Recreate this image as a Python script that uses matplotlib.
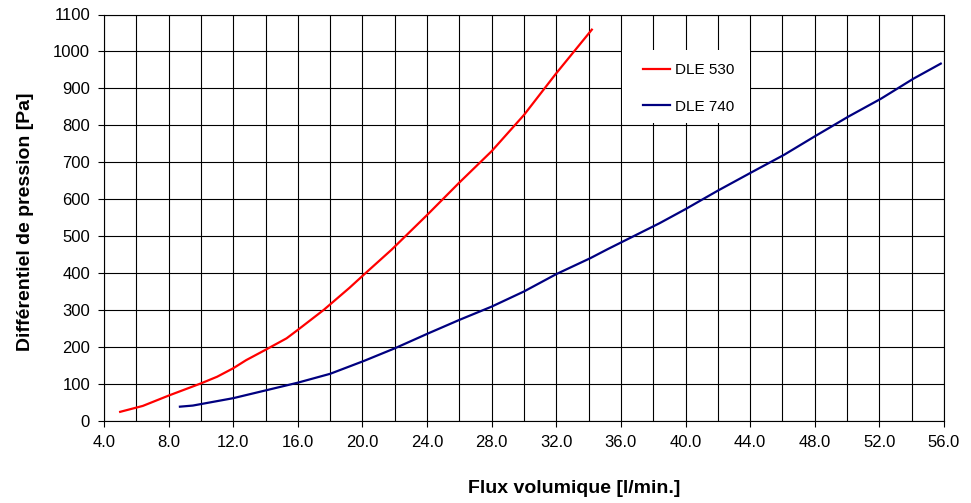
import numpy as np
import matplotlib
matplotlib.use('Agg')
import matplotlib.pyplot as plt
from matplotlib.patches import Rectangle
from matplotlib.ticker import MultipleLocator, FormatStrFormatter

plt.rcParams['font.family'] = ['Liberation Sans', 'DejaVu Sans']

# DLE 530 (red)
x_530 = [5.0, 6.4, 8.0, 10.0, 11.0, 12.0, 12.8, 14.0, 15.3, 16.0, 17.6, 19.2, 20.2,
         21.8, 24.0, 26.0, 28.0, 30.0, 32.0, 34.2]
y_530 = [24, 40, 68, 101, 119, 142, 164, 192, 223, 246, 300, 360, 400,
         463, 557, 645, 730, 828, 941, 1059]

# DLE 740 (blue)
x_740 = [8.7, 9.5, 10.0, 12.0, 14.0, 16.0, 18.0, 20.1, 22.0, 24.1, 26.0, 28.0, 30.0,
         32.0, 34.1, 35.2, 38.4, 40.0, 42.0, 44.1, 46.1, 48.0, 50.1, 52.1, 54.1, 55.8]
y_740 = [38, 41, 45, 61, 82, 103, 127, 162, 196, 237, 273, 309, 350,
         397, 440, 465, 535, 573, 623, 673, 720, 770, 824, 872, 926, 967]

fig = plt.figure(figsize=(9.71, 5.03), dpi=100)
ax = fig.add_axes([104 / 971, 1 - 420.7 / 503, 840 / 971, 406.2 / 503])

ax.plot(x_530, y_530, color='#ff0000', lw=1.6, label='DLE 530', zorder=3)
ax.plot(x_740, y_740, color='#000080', lw=1.6, label='DLE 740', zorder=3)

ax.set_xlim(4, 56)
ax.set_ylim(0, 1100)
ax.xaxis.set_major_locator(MultipleLocator(4))
ax.xaxis.set_minor_locator(MultipleLocator(2))
ax.xaxis.set_major_formatter(FormatStrFormatter('%.1f'))
ax.yaxis.set_major_locator(MultipleLocator(100))
ax.grid(which='both', axis='x', color='black', lw=0.8)
ax.grid(which='major', axis='y', color='black', lw=0.8)
ax.set_axisbelow(True)
ax.tick_params(which='minor', length=0)
ax.tick_params(which='major', length=4, width=0.8, pad=6, labelsize=12, colors='black')
for s in ax.spines.values():
    s.set_color('black')
    s.set_linewidth(0.8)

ax.set_xlabel('Flux volumique [l/min.]', fontsize=14, fontweight='bold')
ax.xaxis.set_label_coords(0.56, -0.145)
ax.set_ylabel('Différentiel de pression [Pa]', fontsize=14, fontweight='bold')
ax.yaxis.set_label_coords(-0.083, 0.49)

# white legend box that hides the grid behind it
ax.add_patch(Rectangle((0.6167, 0.733), 0.152, 0.18, transform=ax.transAxes,
                       facecolor='white', edgecolor='none', zorder=2))
leg = ax.legend(loc='center', bbox_to_anchor=(0.696, 0.818), frameon=False,
                fontsize=11, handlelength=1.8, handletextpad=0.35, labelspacing=1.45)
leg.set_zorder(4)

fig.savefig('out.png', dpi=100)
